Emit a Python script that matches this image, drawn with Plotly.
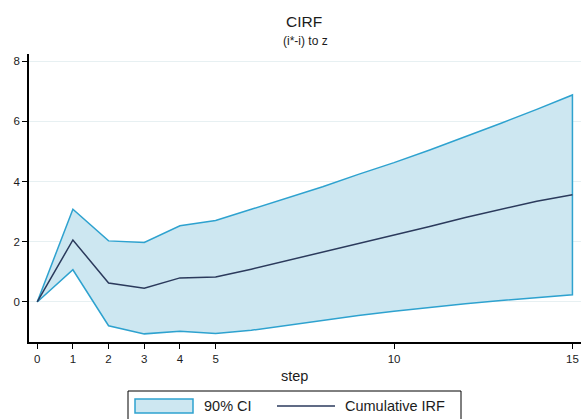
import plotly.graph_objects as go

steps = [0, 1, 2, 3, 4, 5, 6, 7, 8, 9, 10, 11, 12, 13, 14, 15]
upper = [0, 3.08, 2.03, 1.98, 2.53, 2.71, 3.08, 3.45, 3.83, 4.24, 4.63, 5.05, 5.49, 5.94, 6.40, 6.88]
irf = [0, 2.06, 0.63, 0.46, 0.80, 0.83, 1.09, 1.37, 1.65, 1.93, 2.22, 2.51, 2.81, 3.09, 3.35, 3.56]
lower = [0, 1.07, -0.79, -1.06, -0.97, -1.05, -0.94, -0.78, -0.61, -0.45, -0.31, -0.18, -0.06, 0.05, 0.15, 0.24]
xticks = [0, 1, 2, 3, 4, 5, 10, 15]
yticks = [0, 2, 4, 6, 8]
legend_labels = ["90% CI", "Cumulative IRF"]

FONT = "Liberation Sans, Arial, sans-serif"
TXT = "#1c1c1c"
FILL = "#cde7f1"
EDGE = "#2ea2cf"
IRFC = "#2b3a5c"

W, H = 582, 419
ML, MR, MT, MB = 29, 1, 54, 77
PW = W - ML - MR
PH = H - MT - MB


def px(x):
    return (x - ML) / PW


def py(y):
    return (H - MB - y) / PH


fig = go.Figure()
fig.add_trace(go.Scatter(
    x=steps + steps[::-1],
    y=upper + lower[::-1],
    fill="toself", fillcolor=FILL,
    line=dict(color=EDGE, width=1.5),
    mode="lines", name=legend_labels[0], showlegend=False,
))
fig.add_trace(go.Scatter(
    x=steps, y=irf, mode="lines",
    line=dict(color=IRFC, width=1.5),
    name=legend_labels[1], showlegend=False,
))

shapes = [
    dict(type="rect", xref="paper", yref="paper",
         x0=px(128), x1=px(461), y0=py(430), y1=py(391),
         line=dict(color="#000000", width=1), fillcolor="white", layer="above"),
    dict(type="rect", xref="paper", yref="paper",
         x0=px(135), x1=px(193), y0=py(413), y1=py(399),
         line=dict(color=EDGE, width=1.5), fillcolor=FILL, layer="above"),
    dict(type="line", xref="paper", yref="paper",
         x0=px(277), x1=px(335), y0=py(406), y1=py(406),
         line=dict(color=IRFC, width=1.5), layer="above"),
]

annotations = [
    dict(text="CIRF", x=px(304), y=py(22), xref="paper", yref="paper",
         showarrow=False, font=dict(size=15.5, family=FONT, color=TXT),
         xanchor="center", yanchor="middle"),
    dict(text="(i*-i) to z", x=px(305), y=py(41), xref="paper", yref="paper",
         showarrow=False, font=dict(size=12, family=FONT, color=TXT),
         xanchor="center", yanchor="middle"),
    dict(text="step", x=px(294), y=py(376), xref="paper", yref="paper",
         showarrow=False, font=dict(size=14.5, family=FONT, color=TXT),
         xanchor="center", yanchor="middle"),
    dict(text=legend_labels[0], x=px(202), y=py(406), xref="paper", yref="paper",
         showarrow=False, font=dict(size=14.5, family=FONT, color=TXT),
         xanchor="left", yanchor="middle"),
    dict(text=legend_labels[1], x=px(343), y=py(406), xref="paper", yref="paper",
         showarrow=False, font=dict(size=14.5, family=FONT, color=TXT),
         xanchor="left", yanchor="middle"),
]

fig.update_layout(
    width=W, height=H,
    margin=dict(l=ML, r=MR, t=MT, b=MB, autoexpand=False),
    paper_bgcolor="white", plot_bgcolor="white",
    font=dict(family=FONT, color=TXT),
    showlegend=False,
    shapes=shapes,
    annotations=annotations,
)
fig.update_xaxes(
    range=[-0.23, 15.24], tickvals=xticks, ticktext=[str(v) for v in xticks],
    showline=True, linecolor="#000000", linewidth=1.5,
    ticks="outside", ticklen=5, tickcolor="#000000", tickwidth=1,
    showgrid=False, zeroline=False, automargin=False,
    tickfont=dict(size=11.5, family=FONT, color=TXT),
)
fig.update_yaxes(
    range=[-1.33, 8.24], tickvals=yticks, ticktext=[str(v) for v in yticks],
    showline=True, linecolor="#000000", linewidth=1.5,
    ticks="outside", ticklen=5, tickcolor="#000000", tickwidth=1,
    showgrid=True, gridcolor="#e7f0f2", gridwidth=1, zeroline=False,
    automargin=False,
    tickfont=dict(size=11.5, family=FONT, color=TXT),
)

fig.write_html("out.html",
               config={"displayModeBar": False},
               post_script="document.body.style.margin='0';document.body.style.overflow='hidden';")
